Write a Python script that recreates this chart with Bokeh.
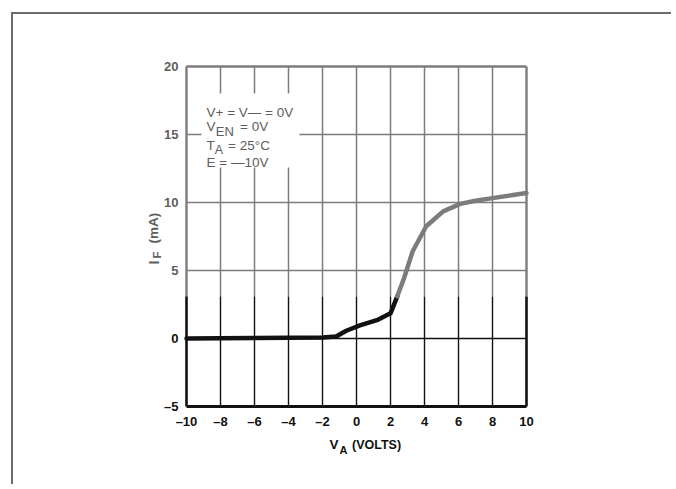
import math
from bokeh.plotting import figure
from bokeh.models import Range1d, Label, BoxAnnotation, FixedTicker, LinearAxis
from bokeh.embed import file_html
from bokeh.resources import INLINE

# ---- data ----
va = [-10, -8, -6, -4, -2, -1.2, -0.6, 0.2, 1.2, 2.0, 2.4, 2.8, 3.3, 4.1, 5.1, 6.1, 7.0, 8.0, 10.0]
i_f = [0.0, 0.02, 0.04, 0.06, 0.08, 0.15, 0.57, 0.96, 1.35, 1.85, 3.1, 4.45, 6.4, 8.25, 9.35, 9.9, 10.13, 10.32, 10.7]

x_ticks = [-10, -8, -6, -4, -2, 0, 2, 4, 6, 8, 10]
x_tick_labels = ["–10", "–8", "–6", "–4", "–2", "0", "2", "4", "6", "8", "10"]
y_ticks = [-5, 0, 5, 10, 15, 20]
y_tick_labels = ["–5", "0", "5", "10", "15", "20"]

# scanned sheet: everything above this level printed gray, below black
tone_split = 3.1

DARK = "#111111"
GRAY = "#7c7c7c"
TXT_GRAY = "#5e5e5e"
FONT = "Liberation Sans"

x0, x1 = x_ticks[0], x_ticks[-1]
y0, y1 = y_ticks[0], y_ticks[-1]

# ---- layout (pixels) ----
CW, CH = 660, 472            # canvas size
PX_L, PX_R = 173, 513        # chart box inside canvas
PX_T, PX_B = 52, 392
sx = (PX_R - PX_L) / (x1 - x0)
sy = (PX_B - PX_T) / (y1 - y0)
xr = Range1d(x0 - PX_L / sx, x1 + (CW - PX_R) / sx)
yr = Range1d(y0 - (CH - PX_B) / sy, y1 + PX_T / sy)

def X(px):   # canvas px -> data x
    return x0 + (px - PX_L) / sx

def Y(py):   # canvas px -> data y
    return y0 + (PX_B - py) / sy

p = figure(width=CW, height=CH, x_range=xr, y_range=yr,
           output_backend="svg", toolbar_location=None, x_axis_location=None, y_axis_location=None,
           min_border=0,
           styles={"border-left": "2px solid #6b6b6b", "border-top": "2px solid #6b6b6b",
                   "margin-left": "11px", "margin-top": "12px"})
p.grid.visible = False
p.outline_line_color = None
p.background_fill_color = "white"

def style_axis(ax, color):
    ax.axis_line_color = None
    ax.major_tick_line_color = None
    ax.minor_tick_line_color = None
    ax.major_tick_out = 0
    ax.major_tick_in = 0
    ax.major_label_text_font = FONT
    ax.major_label_text_font_style = "bold"
    ax.major_label_text_font_size = "13px"
    ax.major_label_text_color = color

xa = LinearAxis(ticker=FixedTicker(ticks=x_ticks), fixed_location=y0,
                major_label_overrides={t: l for t, l in zip(x_ticks, x_tick_labels)})
style_axis(xa, DARK)
xa.major_label_standoff = 7
p.add_layout(xa, "below")

lo = [t for t in y_ticks if t < tone_split]
hi = [t for t in y_ticks if t >= tone_split]
ov = {t: l for t, l in zip(y_ticks, y_tick_labels)}
for ticks, col in ((lo, DARK), (hi, TXT_GRAY)):
    ya = LinearAxis(ticker=FixedTicker(ticks=ticks), fixed_location=x0,
                    major_label_overrides={t: ov[t] for t in ticks})
    style_axis(ya, col)
    ya.major_label_standoff = 8
    p.add_layout(ya, "left")

# ---- grid (two-tone, as in the scan) ----
for xt in x_ticks:
    edge = xt in (x0, x1)
    p.segment(x0=[xt], y0=[y0], x1=[xt], y1=[tone_split], line_color=DARK,
              line_width=2.6 if edge else 1.4)
    p.segment(x0=[xt], y0=[tone_split], x1=[xt], y1=[y1], line_color=GRAY,
              line_width=2.4 if edge else 1.5)
for yt in y_ticks:
    col = DARK if yt < tone_split else GRAY
    w = 3 if yt == y0 else (2.3 if yt == y1 else 1.4)
    p.segment(x0=[x0], y0=[yt], x1=[x1], y1=[yt], line_color=col, line_width=w)

# ---- curve ----
k = next(i for i, v in enumerate(i_f) if v >= tone_split)
p.line(va[:k + 1], i_f[:k + 1], line_color=DARK, line_width=4.5, line_join="round", line_cap="round")
p.line(va[k:], i_f[k:], line_color=GRAY, line_width=4.5, line_join="round", line_cap="round")

# ---- condition box ----
p.add_layout(BoxAnnotation(left=X(188), right=X(286), bottom=Y(153), top=Y(79),
                           fill_color="white", fill_alpha=1.0, line_color=None))

def lab(x, y, text, size="13.5px", dx=0, dy=0, color=TXT_GRAY, style="normal", angle=0.0,
        align="left", baseline="alphabetic"):
    p.add_layout(Label(x=x, y=y, x_offset=dx, y_offset=dy, text=text, text_font=FONT,
                       text_font_size=size, text_color=color, text_font_style=style,
                       angle=angle, text_align=align, text_baseline=baseline))

tx = X(193)
lab(tx, Y(97.5), "V+ = V— = 0V")
lab(tx, Y(112), "V")
lab(tx, Y(112), "EN", size="13px", dx=9.3, dy=-5)
lab(tx, Y(112), "= 0V", dx=33.5)
lab(tx, Y(131), "T")
lab(tx, Y(131), "A", size="12.5px", dx=8.3, dy=-4)
lab(tx, Y(131), "= 25°C", dx=21.6)
lab(tx, Y(148), "E = —10V")

# ---- axis titles ----
# y title: I_F (mA), rotated, gray
lab(X(140), Y(250), "I", size="14px", style="bold", angle=math.pi / 2)
lab(X(143.5), Y(244), "F", size="11.5px", style="bold", angle=math.pi / 2)
lab(X(140), Y(229), "(mA)", size="13.5px", style="bold", angle=math.pi / 2)

# x title: V_A (VOLTS), black
lab(X(316), Y(430), "V", size="13.5px", style="bold", color=DARK)
lab(X(326), Y(435.5), "A", size="11px", style="bold", color=DARK)
lab(X(338.5), Y(430), "(VOLTS)", size="12.5px", style="bold", color=DARK)

open("out.html", "w").write(file_html(p, INLINE))
